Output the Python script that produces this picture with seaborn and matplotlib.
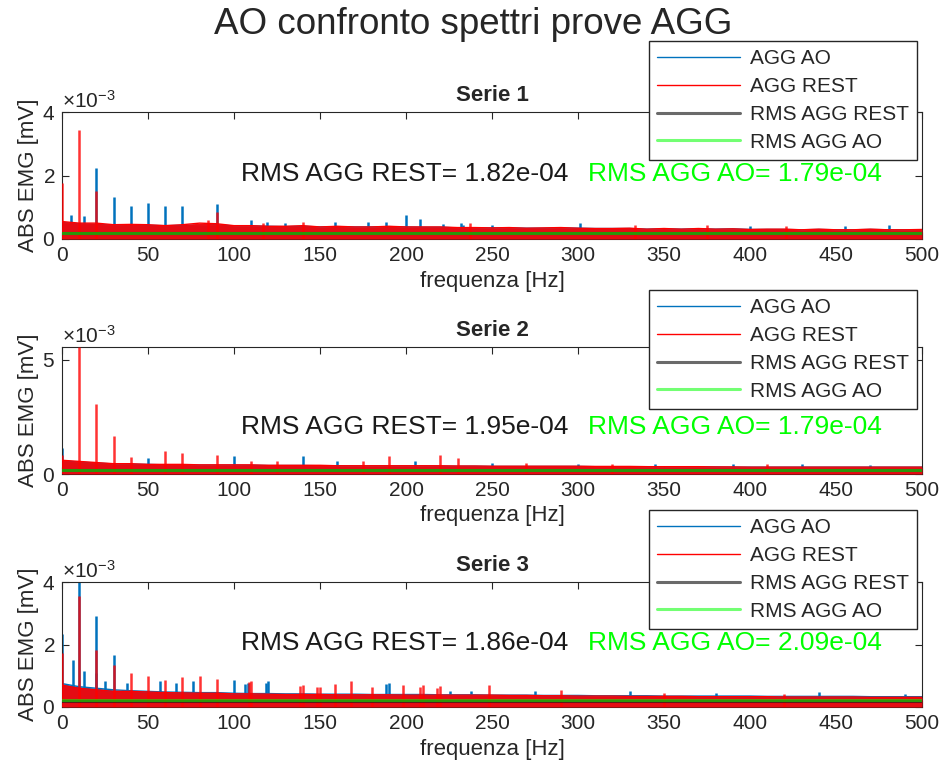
import matplotlib
matplotlib.use("Agg")
import matplotlib.pyplot as plt
import seaborn as sns
import numpy as np

# frequenze di campionamento dell'inviluppo (Hz)
freq_env = list(range(0, 501, 10))

# ---- Serie 1 (valori in 1e-3 mV) ----
s1_rest_env = [0.55, 0.50, 0.50, 0.45, 0.46, 0.45, 0.42, 0.45, 0.50, 0.48,
               0.42, 0.42, 0.40, 0.40, 0.42, 0.38, 0.40, 0.38, 0.38, 0.40,
               0.38, 0.38, 0.38, 0.36, 0.36, 0.35, 0.36, 0.34, 0.35, 0.36,
               0.34, 0.33, 0.33, 0.34, 0.31, 0.33, 0.31, 0.33, 0.31, 0.32,
               0.30, 0.31, 0.31, 0.29, 0.31, 0.29, 0.29, 0.31, 0.29, 0.29, 0.30]
s1_ao_env = [0.52, 0.48, 0.46, 0.44, 0.44, 0.43, 0.42, 0.43, 0.44, 0.45,
             0.41, 0.41, 0.40, 0.39, 0.40, 0.38, 0.39, 0.38, 0.38, 0.39,
             0.38, 0.37, 0.37, 0.35, 0.35, 0.35, 0.35, 0.34, 0.34, 0.35,
             0.34, 0.33, 0.33, 0.33, 0.31, 0.32, 0.31, 0.32, 0.31, 0.32,
             0.30, 0.30, 0.30, 0.29, 0.30, 0.29, 0.29, 0.30, 0.29, 0.29, 0.29]
s1_ao_pk_f = [5, 12.5, 20, 30, 40, 50, 60, 70, 90, 110, 119, 129.6, 158.7, 178, 188.4, 200,
              208, 221.7, 232, 233, 250, 301, 400, 455, 481]
s1_ao_pk_v = [0.75, 0.72, 2.24, 1.32, 1.05, 1.13, 1.03, 1.05, 1.10, 0.61, 0.55, 0.50, 0.55, 0.55, 0.52, 0.76,
              0.63, 0.47, 0.50, 0.45, 0.45, 0.50, 0.42, 0.40, 0.45]
s1_rest_pk_f = [0, 10, 20, 90, 85, 117, 140, 237, 333, 374.8, 421]
s1_rest_pk_v = [1.76, 3.44, 1.52, 0.84, 0.60, 0.50, 0.55, 0.50, 0.45, 0.45, 0.40]
s1_rms_rest, s1_rms_ao = 0.182, 0.179

# ---- Serie 2 ----
s2_rest_env = [0.60, 0.55, 0.50, 0.45, 0.45, 0.42, 0.42, 0.42, 0.40, 0.40,
               0.40, 0.40, 0.38, 0.38, 0.38, 0.38, 0.36, 0.36, 0.36, 0.36,
               0.36, 0.36, 0.36, 0.35, 0.35, 0.34, 0.34, 0.34, 0.34, 0.34,
               0.34, 0.33, 0.33, 0.33, 0.32, 0.32, 0.32, 0.32, 0.31, 0.31,
               0.30, 0.30, 0.30, 0.30, 0.30, 0.30, 0.30, 0.30, 0.30, 0.30, 0.30]
s2_ao_env = [0.58, 0.52, 0.48, 0.44, 0.43, 0.42, 0.40, 0.40, 0.39, 0.39,
             0.39, 0.38, 0.37, 0.37, 0.37, 0.36, 0.36, 0.35, 0.35, 0.35,
             0.35, 0.35, 0.34, 0.34, 0.34, 0.33, 0.33, 0.33, 0.33, 0.33,
             0.33, 0.32, 0.32, 0.32, 0.32, 0.31, 0.31, 0.31, 0.31, 0.30,
             0.30, 0.30, 0.30, 0.30, 0.30, 0.30, 0.30, 0.30, 0.30, 0.30, 0.30]
s2_ao_pk_f = [0, 50, 100, 140, 160, 205, 250, 300, 345, 390, 430, 470]
s2_ao_pk_v = [1.12, 0.71, 0.78, 0.80, 0.55, 0.55, 0.50, 0.45, 0.45, 0.42, 0.42, 0.40]
s2_rest_pk_f = [0, 10, 20, 30, 40, 60, 70, 90, 110, 125, 175, 190, 220, 230, 270, 320, 410]
s2_rest_pk_v = [0.83, 5.55, 3.04, 1.66, 0.76, 1.00, 0.93, 0.81, 0.58, 0.55, 0.55, 0.80, 0.83, 0.71, 0.50, 0.45, 0.42]
s2_rms_rest, s2_rms_ao = 0.195, 0.179

# ---- Serie 3 ----
s3_rest_env = [0.70, 0.60, 0.55, 0.50, 0.50, 0.48, 0.46, 0.45, 0.44, 0.44,
               0.42, 0.42, 0.41, 0.40, 0.40, 0.40, 0.39, 0.39, 0.39, 0.39,
               0.38, 0.38, 0.38, 0.38, 0.38, 0.38, 0.37, 0.37, 0.36, 0.36,
               0.35, 0.35, 0.35, 0.34, 0.34, 0.34, 0.34, 0.33, 0.33, 0.33,
               0.33, 0.33, 0.32, 0.32, 0.32, 0.32, 0.32, 0.31, 0.31, 0.31, 0.31]
s3_ao_env = [0.75, 0.65, 0.60, 0.55, 0.52, 0.50, 0.48, 0.47, 0.46, 0.46,
             0.44, 0.43, 0.43, 0.42, 0.42, 0.41, 0.41, 0.41, 0.40, 0.40,
             0.40, 0.40, 0.39, 0.39, 0.39, 0.38, 0.38, 0.38, 0.37, 0.37,
             0.37, 0.36, 0.36, 0.36, 0.36, 0.35, 0.35, 0.35, 0.35, 0.35,
             0.35, 0.34, 0.34, 0.34, 0.34, 0.34, 0.34, 0.33, 0.33, 0.33, 0.33]
s3_ao_pk_f = [0, 6.4, 10, 13, 19.5, 20, 25, 30, 38, 57, 66, 76, 100, 106.4, 108, 118.6, 120, 188.4,
              190, 225.6, 238, 275, 330, 380, 440, 490]
s3_ao_pk_v = [2.35, 1.49, 4.00, 1.16, 1.09, 2.92, 0.82, 1.67, 0.77, 0.82, 0.77, 0.83, 0.87, 0.74, 0.77, 0.77, 0.82, 0.75,
              0.77, 0.52, 0.50, 0.50, 0.50, 0.45, 0.48, 0.42]
s3_rest_pk_f = [0, 10, 20, 30, 40, 50, 60, 70, 80, 90, 108.8, 110, 138.4, 140, 148.5, 150, 158.7, 168, 180,
                198, 208, 210, 217.8, 220, 248, 290, 350, 420]
s3_rest_pk_v = [1.73, 3.56, 1.83, 1.35, 1.09, 0.98, 0.87, 0.95, 0.98, 0.90, 0.80, 0.83, 0.67, 0.69, 0.63, 0.64, 0.75, 0.83, 0.63,
                0.70, 0.63, 0.71, 0.60, 0.66, 0.70, 0.55, 0.45, 0.42]
s3_rms_rest, s3_rms_ao = 0.186, 0.209

serie = [
    ("Serie 1", s1_ao_env, s1_rest_env, s1_ao_pk_f, s1_ao_pk_v, s1_rest_pk_f, s1_rest_pk_v, s1_rms_rest, s1_rms_ao),
    ("Serie 2", s2_ao_env, s2_rest_env, s2_ao_pk_f, s2_ao_pk_v, s2_rest_pk_f, s2_rest_pk_v, s2_rms_rest, s2_rms_ao),
    ("Serie 3", s3_ao_env, s3_rest_env, s3_ao_pk_f, s3_ao_pk_v, s3_rest_pk_f, s3_rest_pk_v, s3_rms_rest, s3_rms_ao),
]

sns.set_theme(style="ticks")
plt.rcParams['font.family'] = ['Liberation Sans', 'DejaVu Sans']
plt.rcParams['mathtext.fontset'] = 'custom'
plt.rcParams['mathtext.rm'] = 'Liberation Sans'

BLU = '#0072BD'
ROSSO = '#FF0000'
scala = 1e-3

fig = plt.figure(figsize=(9.47, 7.77), dpi=100)
W, H = 947, 777
# posizioni in pixel (y_top, y_bottom)
box = [(112, 239), (347, 474), (582, 707)]
ylims = [4.0, 5.55, 4.0]
yticks = [[0, 2, 4], [0, 5], [0, 2, 4]]
leg_top = [41, 290, 510]

for i, (tit, ao_env, rest_env, ao_f, ao_v, re_f, re_v, rms_re, rms_ao) in enumerate(serie):
    top, bot = box[i]
    ax = fig.add_axes([62 / W, 1 - bot / H, 860 / W, (bot - top) / H])

    fe = np.array(freq_env)
    # spettro AO (blu) sotto, REST (rosso) sopra
    ax.fill_between(fe, 0, np.array(ao_env) * scala, color=BLU, lw=0, zorder=1)
    sns.lineplot(x=fe, y=np.array(ao_env) * scala, color=BLU, lw=1, ax=ax, label="AGG AO", zorder=2)
    ax.vlines(ao_f, 0, np.array(ao_v) * scala, color=BLU, lw=1.8, zorder=2)
    ax.fill_between(fe, 0, np.array(rest_env) * scala, color=ROSSO, alpha=0.9, lw=0, zorder=3)
    sns.lineplot(x=fe, y=np.array(rest_env) * scala, color=ROSSO, lw=1, ax=ax, label="AGG REST", zorder=4)
    ax.vlines(re_f, 0, np.array(re_v) * scala, color=ROSSO, lw=1.8, alpha=0.8, zorder=4)

    ax.axhline(rms_re * scala, color='k', lw=2.2, alpha=0.65, label="RMS AGG REST", zorder=5)
    ax.axhline(rms_ao * scala, color='#00FF00', lw=2.2, alpha=0.55, label="RMS AGG AO", zorder=6)

    ax.text(104, 2.05 * scala, "RMS AGG REST= %.2e" % (rms_re * scala), fontsize=19,
            color='#1a1a1a', va='center', ha='left')
    ax.text(306, 2.05 * scala, "RMS AGG AO= %.2e" % (rms_ao * scala), fontsize=19,
            color='#00FF00', va='center', ha='left')

    ax.set_xlim(0, 500)
    ax.set_ylim(0, ylims[i] * scala)
    ax.set_xticks(range(0, 501, 50))
    ax.set_yticks(np.array(yticks[i]) * scala)
    ax.ticklabel_format(axis='y', style='sci', scilimits=(0, 0), useMathText=True)
    ax.yaxis.get_offset_text().set_fontsize(15)
    ax.yaxis.get_offset_text().set_color('#262626')
    ax.tick_params(direction='in', top=True, right=True, length=5, width=0.8,
                   labelsize=15, colors='#262626', pad=5)
    for sp in ax.spines.values():
        sp.set_visible(True)
        sp.set_color('#262626')
        sp.set_linewidth(0.8)
    ax.set_title(tit, fontsize=16, fontweight='bold', pad=8)
    ax.set_xlabel("frequenza [Hz]", fontsize=16, color='#262626', labelpad=4)
    ax.set_ylabel("ABS EMG [mV]", fontsize=16, color='#262626', labelpad=2)

    leg = ax.legend(loc='upper right', bbox_to_anchor=(917 / W, 1 - leg_top[i] / H),
                    bbox_transform=fig.transFigure, borderaxespad=0, fontsize=15,
                    handlelength=4.0, labelspacing=0.42, fancybox=False, framealpha=1,
                    edgecolor='#262626', borderpad=0.4, handletextpad=0.45)
    leg.get_frame().set_linewidth(1.0)
    leg.set_zorder(20)

fig.suptitle("AO confronto spettri prove AGG", fontsize=26.5, y=1 - 25 / H, va='center')
fig.savefig("out.png", dpi=100)
